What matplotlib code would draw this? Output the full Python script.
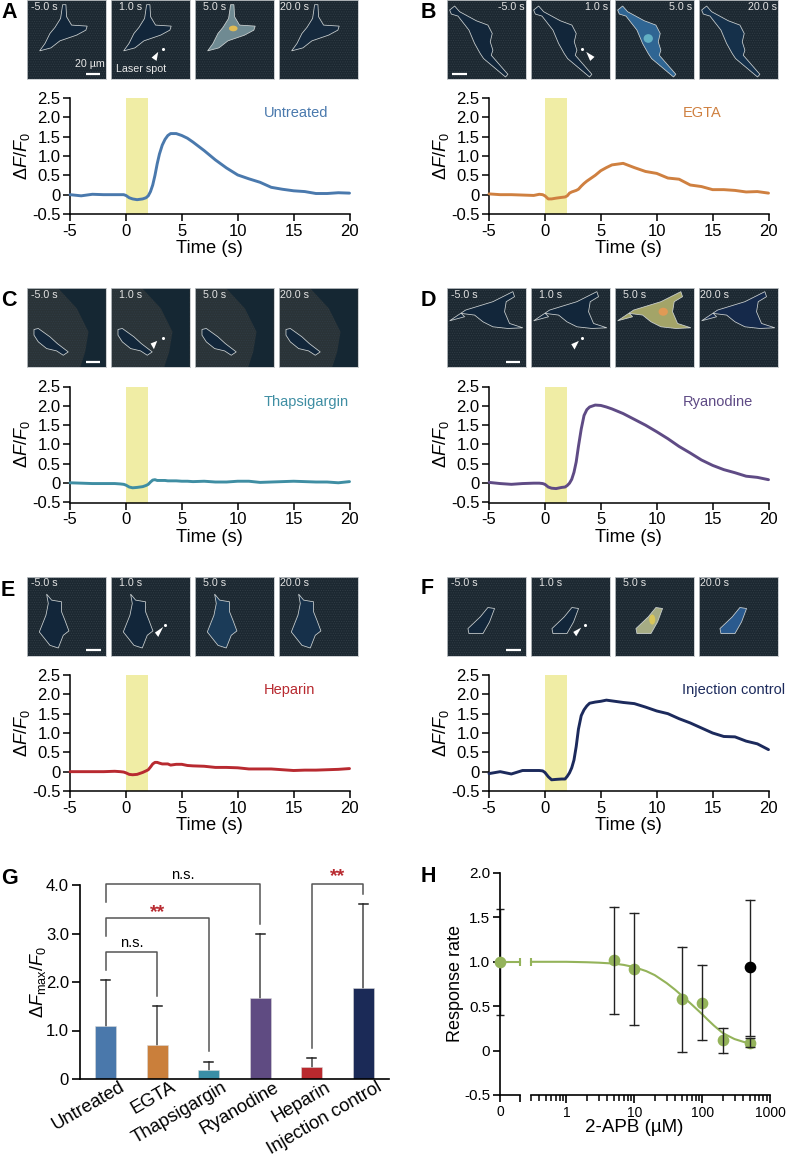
import matplotlib
matplotlib.use('Agg')
import matplotlib.pyplot as plt
import matplotlib.transforms as mtrans
from matplotlib.patches import Polygon, Ellipse, Rectangle
from matplotlib.ticker import NullFormatter, FixedLocator

plt.rcParams['font.family'] = ['Liberation Sans', 'DejaVu Sans']
plt.rcParams['mathtext.fontset'] = 'custom'
plt.rcParams['mathtext.rm'] = 'Liberation Sans'
plt.rcParams['mathtext.it'] = 'Liberation Sans:italic'
plt.rcParams['hatch.linewidth'] = 0.5

W, H = 786, 1158

# traces, all on the same time points
time = [-5, -4, -3, -2, -1, -0.5, -0.2, 0, 0.3, 0.6, 1, 1.5, 1.8, 2, 2.2, 2.4, 2.6, 2.8, 3, 3.25, 3.5, 3.75,
        4, 4.5, 5, 5.5, 6, 7, 8, 9, 10, 11, 12, 13, 14, 15, 16, 17, 18, 19, 20]
untreated = [0.0, -0.03, 0.01, 0.0, 0.0, 0.0, 0.0, -0.02, -0.08, -0.11, -0.13, -0.11, -0.08, -0.03, 0.08, 0.25,
             0.5, 0.8, 1.05, 1.28, 1.43, 1.53, 1.58, 1.58, 1.53, 1.46, 1.36, 1.14, 0.9, 0.69, 0.51, 0.41, 0.32,
             0.19, 0.14, 0.1, 0.08, 0.03, 0.03, 0.05, 0.04]
egta = [0.02, 0.0, 0.0, -0.01, -0.02, 0.01, 0.0, -0.03, -0.11, -0.11, -0.09, -0.07, -0.06, -0.03, 0.04, 0.07,
        0.09, 0.11, 0.14, 0.22, 0.29, 0.35, 0.4, 0.5, 0.62, 0.7, 0.77, 0.81, 0.7, 0.6, 0.55, 0.43, 0.4, 0.25,
        0.21, 0.13, 0.13, 0.11, 0.07, 0.08, 0.04]
thapsigargin = [0.01, 0.0, -0.01, -0.01, -0.01, -0.02, -0.03, -0.05, -0.1, -0.12, -0.11, -0.09, -0.06, -0.03,
                0.03, 0.08, 0.09, 0.07, 0.07, 0.07, 0.07, 0.06, 0.06, 0.06, 0.05, 0.05, 0.04, 0.05, 0.03, 0.03,
                0.05, 0.05, 0.02, 0.03, 0.04, 0.05, 0.04, 0.03, 0.03, 0.01, 0.04]
ryanodine = [0.02, -0.01, -0.03, -0.01, 0.0, 0.0, -0.01, -0.03, -0.1, -0.13, -0.14, -0.11, -0.1, -0.06, 0.0,
             0.1, 0.28, 0.55, 0.95, 1.4, 1.75, 1.9, 1.97, 2.02, 2.01, 1.97, 1.92, 1.8, 1.65, 1.5, 1.33, 1.15,
             0.95, 0.78, 0.6, 0.46, 0.35, 0.27, 0.18, 0.15, 0.09]
heparin = [0.0, 0.0, 0.0, 0.0, 0.01, 0.0, -0.01, -0.03, -0.07, -0.08, -0.07, -0.02, 0.02, 0.05, 0.12, 0.2, 0.24,
           0.24, 0.22, 0.2, 0.2, 0.2, 0.17, 0.19, 0.19, 0.16, 0.15, 0.14, 0.11, 0.11, 0.1, 0.07, 0.07, 0.07,
           0.05, 0.03, 0.04, 0.04, 0.05, 0.06, 0.08]
injection = [-0.05, 0.0, -0.06, 0.03, 0.03, 0.03, 0.02, -0.02, -0.13, -0.21, -0.2, -0.19, -0.19, -0.12, -0.03,
             0.1, 0.3, 0.65, 1.1, 1.45, 1.6, 1.7, 1.77, 1.8, 1.82, 1.85, 1.83, 1.79, 1.76, 1.67, 1.57, 1.5, 1.37,
             1.26, 1.13, 1.0, 0.91, 0.9, 0.79, 0.72, 0.57]

# bar chart
groups = ['Untreated', 'EGTA', 'Thapsigargin', 'Ryanodine', 'Heparin', 'Injection control']
bar_means = [1.1, 0.71, 0.19, 1.66, 0.24, 1.88]
bar_tops = [2.04, 1.5, 0.35, 2.98, 0.43, 3.61]
bar_colors = ['#4a78ab', '#ca7f3b', '#3a8ea6', '#5f4b82', '#b9292e', '#1b2a57']

# dose response
dose = [5, 10, 50, 100, 200, 500]
rate = [1.02, 0.92, 0.58, 0.54, 0.12, 0.085]
rate_low = [0.41, 0.29, -0.02, 0.12, -0.03, 0.04]
rate_high = [1.62, 1.55, 1.17, 0.96, 0.26, 0.14]
fit_dose = [0.3, 1, 2, 3, 5, 7, 10, 15, 20, 30, 40, 50, 70, 85, 100, 120, 150, 200, 250, 300, 400, 500]
fit_rate = [1.0, 1.0, 0.995, 0.99, 0.98, 0.965, 0.94, 0.895, 0.85, 0.76, 0.685, 0.62, 0.52, 0.46, 0.41, 0.35,
            0.28, 0.2, 0.16, 0.13, 0.1, 0.08]

# cell outlines, in frame pixels (3x zoom) with y going down
outline_a = [(107, 14), (117, 14), (119, 50), (134, 75), (181, 78), (177, 90), (149, 105), (99, 122), (72, 143),
             (38, 152), (54, 130), (69, 100), (84, 82), (101, 55), (104, 35)]
outline_b = [(8, 30), (23, 18), (38, 35), (88, 62), (123, 75), (136, 100), (130, 125), (138, 150), (133, 165),
             (183, 222), (176, 230), (110, 175), (100, 160), (83, 130), (66, 90), (33, 48), (13, 42)]
outline_c = [(21, 123), (34, 120), (69, 145), (91, 165), (124, 190), (109, 200), (89, 187), (59, 180), (34, 160),
             (21, 140)]
outline_d = [(8, 97), (56, 65), (138, 40), (198, 10), (203, 25), (178, 40), (173, 70), (188, 105), (228, 118),
             (183, 120), (138, 115), (108, 100), (83, 80), (43, 75), (53, 85)]
outline_e = [(59, 52), (74, 70), (104, 75), (104, 105), (114, 130), (126, 162), (109, 175), (94, 213), (69, 205),
             (37, 165), (57, 115), (64, 80)]
outline_f = [(63, 155), (100, 120), (123, 92), (143, 95), (128, 135), (108, 170), (78, 170), (66, 170)]
band_c = [(94, 0), (150, 60), (185, 130), (175, 190), (160, 236), (236, 236), (236, 0)]

# arrow head and laser dot in the 1.0 s frame
arrow_a = [(142, 155), (122, 172), (137, 182)]
arrow_b = [(166, 155), (191, 170), (178, 182)]
arrow_c = [(139, 157), (119, 165), (129, 182)]
arrow_d = [(144, 157), (121, 167), (131, 183)]
arrow_e = [(157, 150), (132, 167), (142, 180)]
arrow_f = [(151, 152), (127, 165), (136, 178)]
dot_a, dot_b, dot_c, dot_d, dot_e, dot_f = (155, 146), (154, 147), (156, 147), (154, 147), (162, 143), (161, 143)

frame_times = ['-5.0 s', '1.0 s', '5.0 s', '20.0 s']
frame_xs = [(27, 111, 195, 279), (447, 531, 615, 699)]
frame_text_x = [11, 23, 23, 4]


def px_axes(x0, y0, x1, y1, **kw):
    # rectangle in image pixels, y from the top
    return fig.add_axes([x0 / W, 1 - y1 / H, (x1 - x0) / W, (y1 - y0) / H], **kw)


def frame(x0, y0, label, tx, outline, fill, arrow=None, dot=None, bar=None, bg='#1c2831', right=False):
    ax = px_axes(x0, y0, x0 + 78.5, y0 + 79)
    ax.set_xlim(0, 236)
    ax.set_ylim(236, 0)
    ax.set_xticks([])
    ax.set_yticks([])
    ax.add_patch(Rectangle((0, 0), 236, 236, facecolor=bg, edgecolor='#303c45', hatch='.......', lw=0))
    for s in ax.spines.values():
        s.set_color('#c4c8cb')
        s.set_linewidth(0.6)
    ax.add_patch(Polygon(outline, closed=True, facecolor=fill, edgecolor='#cfd4d4', lw=0.55, zorder=3))
    if right:
        ax.text(233, 20, label, color='#e4e4e4', fontsize=7.7, ha='right', va='center', zorder=6)
    else:
        ax.text(tx, 20, label, color='#e4e4e4', fontsize=7.7, ha='left', va='center', zorder=6)
    if arrow is not None:
        ax.add_patch(Polygon(arrow, closed=True, facecolor='white', edgecolor='none', zorder=5))
        ax.plot([dot[0]], [dot[1]], 'o', ms=1.2, color='white', zorder=5)
    if bar is not None:
        ax.plot(bar, [220, 220], color='white', lw=1.6, solid_capstyle='butt', zorder=5)
    return ax


def frames_row(col, y0, outline, arrow, dot, bar, fill5, fill20, blobs, bg='#1c2831', right=False, band=None):
    axs = []
    for i, lab in enumerate(frame_times):
        fill = '#12263a'
        if i == 2:
            fill = fill5
        if i == 3:
            fill = fill20
        axs.append(frame(frame_xs[col][i], y0, lab, frame_text_x[i], outline, fill,
                         arrow if i == 1 else None, dot if i == 1 else None,
                         bar if i == 0 else None, bg, right))
    for ax in axs:
        if band is not None:
            ax.add_patch(Polygon(band, closed=True, facecolor='#152733', edgecolor='none', zorder=2))
    for (cx, cy, w, h, c) in blobs:
        axs[2].add_patch(Ellipse((cx, cy), w, h, facecolor=c, edgecolor='none', zorder=4))
    return axs


def trace(x0, y0, values, color, name):
    ax = px_axes(x0, y0, x0 + 279.5, y0 + 116)
    ax.axvspan(0, 2, color='#f0eda5', lw=0, zorder=1)
    ax.plot(time, values, color=color, lw=2.1, zorder=3, clip_on=False, solid_capstyle='round')
    ax.set_xlim(-5, 20)
    ax.set_ylim(-0.5, 2.5)
    ax.set_xticks([-5, 0, 5, 10, 15, 20])
    ax.set_xticklabels(['-5', '0', '5', '10', '15', '20'], fontsize=12)
    ax.set_yticks([-0.5, 0, 0.5, 1, 1.5, 2, 2.5])
    ax.set_yticklabels(['-0.5', '0', '0.5', '1.0', '1.5', '2.0', '2.5'], fontsize=12)
    ax.spines['top'].set_visible(False)
    ax.spines['right'].set_visible(False)
    ax.spines['left'].set_linewidth(1.1)
    ax.spines['bottom'].set_linewidth(1.1)
    ax.tick_params(length=5, width=1.1, pad=2)
    ax.set_xlabel('Time (s)', fontsize=13.2, labelpad=1)
    ax.text(12.3, 2.11, name, color=color, fontsize=10.5, va='center', ha='left')
    fig.text((x0 - 48) / W, 1 - (y0 + 58) / H, r'$\Delta F/F_0$', fontsize=13, rotation=90, ha='center', va='center')
    return ax


fig = plt.figure(figsize=(W / 100, H / 100), dpi=100)

frames_row(0, 0, outline_a, arrow_a, dot_a, (176, 219), '#6f8a92', '#15293d', [(115, 85, 26, 17, '#e0bb55')])
frames_row(1, 0, outline_b, arrow_b, dot_b, (16, 60), '#2f6593', '#15304a', [(100, 115, 28, 26, '#62b0c4')], right=True)
frames_row(0, 288.3, outline_c, arrow_c, dot_c, (176, 219), '#12263a', '#12263a', [], bg='#2a3337', band=band_c)
frames_row(1, 288.3, outline_d, arrow_d, dot_d, (176, 220), '#a3a468', '#15294a', [(145, 70, 28, 24, '#e09a55')])
frames_row(0, 576.7, outline_e, arrow_e, dot_e, (178, 222), '#1b3b58', '#16304a', [])
frames_row(1, 576.7, outline_f, arrow_f, dot_f, (176, 221), '#a6ac84', '#2a5a8e', [(112, 128, 18, 30, '#d9c65a')])

first = fig.axes[0]
first.text(144, 192, '20 µm', color='#e8e8e8', fontsize=7.7, ha='left', va='center', zorder=6)
fig.axes[1].text(14, 205, 'Laser spot', color='#e8e8e8', fontsize=7.7, ha='left', va='center', zorder=6)

trace(70, 98, untreated, '#4a79ad', 'Untreated')
trace(489, 98, egta, '#cf8040', 'EGTA')
trace(70, 386.5, thapsigargin, '#3f8ea3', 'Thapsigargin')
trace(489, 386.5, ryanodine, '#5f4b85', 'Ryanodine')
trace(70, 675, heparin, '#b82a30', 'Heparin')
trace(489, 675, injection, '#1c2a5c', 'Injection control')

# G
ax = px_axes(80, 885, 389, 1079)
xpos = list(range(len(groups)))
ax.bar(xpos, bar_means, width=0.41, color=bar_colors, edgecolor='#d8d8d8', lw=0.4, zorder=2)
for i in xpos:
    ax.plot([i, i], [bar_means[i], bar_tops[i]], color='#555555', lw=1.2, zorder=1, clip_on=False)
    ax.plot([i - 0.09, i + 0.09], [bar_tops[i], bar_tops[i]], color='#222222', lw=1.1, clip_on=False)
ax.set_xlim(-0.5, 5.5)
ax.set_ylim(0, 4)
ax.set_yticks([0, 1, 2, 3, 4])
ax.set_yticklabels(['0', '1.0', '2.0', '3.0', '4.0'], fontsize=12)
ax.set_xticks(xpos)
ax.set_xticklabels(groups, fontsize=13.3, rotation=30, ha='right', rotation_mode='anchor')
ax.spines['top'].set_visible(False)
ax.spines['right'].set_visible(False)
ax.spines['left'].set_linewidth(1.2)
ax.spines['bottom'].set_linewidth(1.2)
ax.tick_params(axis='y', length=6, width=1.2, pad=2)
ax.tick_params(axis='x', length=0, pad=2)
# tick_params resets the label transform, so the shift has to come after it
shift = mtrans.ScaledTranslation(13 / 100, 3 / 100, fig.dpi_scale_trans)
for lab in ax.get_xticklabels():
    lab.set_transform(lab.get_transform() + shift)
# significance brackets
for (a, b, top, low_a, low_b) in [(0, 1, 2.62, 2.25, 1.71), (0, 2, 3.32, 2.95, 0.57),
                                  (0, 3, 4.03, 3.65, 3.19), (4, 5, 4.03, 0.64, 3.82)]:
    ax.plot([a, a, b, b], [low_a, top, top, low_b], color='#555555', lw=1.1, clip_on=False)
ax.text(0.5, 2.8, 'n.s.', fontsize=10.5, ha='center', va='center')
ax.text(1.0, 3.44, '**', fontsize=14, fontweight='bold', color='#b82a30', ha='center', va='center')
ax.text(1.5, 4.2, 'n.s.', fontsize=10.5, ha='center', va='center')
ax.text(4.5, 4.17, '**', fontsize=14, fontweight='bold', color='#b82a30', ha='center', va='center')
fig.text(38 / W, 1 - 982 / H, r'$\Delta F_{\mathrm{max}}/F_0$', fontsize=13, rotation=90, ha='center', va='center')

# H, x axis broken between 0 and 0.3
green = '#94b35a'
axl = px_axes(500, 873, 520, 1095)
axr = px_axes(531, 873, 770, 1095)
axl.set_xlim(0, 1)
axl.set_ylim(-0.5, 2)
axr.set_xscale('log')
axr.set_xlim(0.3, 1000)
axr.set_ylim(-0.5, 2)
axl.plot([0, 1], [1, 1], color=green, lw=1.5, clip_on=False, zorder=3)
axl.plot([1], [1], marker='|', ms=6, mew=1.5, color=green, clip_on=False, zorder=3)
axl.errorbar([0], [1], yerr=[[0.6], [0.6]], color='#222222', lw=0, elinewidth=1, capsize=3, clip_on=False, zorder=2)
axl.plot([0], [1], 'o', ms=7.4, color=green, clip_on=False, zorder=4)
axr.plot(fit_dose, fit_rate, color=green, lw=1.5, clip_on=False, zorder=3)
axr.plot([0.3], [1], marker='|', ms=6, mew=1.5, color=green, clip_on=False, zorder=3)
axr.plot(dose, rate, 'o', ms=7.4, color=green, clip_on=False, zorder=4, ls='none')
for d, lo, hi in zip(dose, rate_low, rate_high):
    axr.plot([d, d], [lo, hi], color='#222222', lw=1, zorder=5, clip_on=False)
    axr.plot([d], [lo], marker='_', ms=7, mew=1, color='#222222', zorder=5, clip_on=False)
    axr.plot([d], [hi], marker='_', ms=7, mew=1, color='#222222', zorder=5, clip_on=False)
axr.plot([500, 500], [0.17, 1.7], color='#222222', lw=1, zorder=5, clip_on=False)
axr.plot([500, 500], [0.17, 1.7], marker='_', ms=7, mew=1, ls='none', color='#222222', zorder=5, clip_on=False)
axr.plot([500], [0.94], 'o', ms=7.4, color='black', zorder=6, clip_on=False)

for a in (axl, axr):
    a.spines['top'].set_visible(False)
    a.spines['right'].set_visible(False)
    a.spines['bottom'].set_linewidth(1.2)
axl.spines['left'].set_linewidth(1.2)
axr.spines['left'].set_visible(False)
axl.set_yticks([-0.5, 0, 0.5, 1, 1.5, 2])
axl.set_yticklabels(['-0.5', '0', '0.5', '1.0', '1.5', '2.0'], fontsize=11)
axl.set_xticks([0, 1])
axl.set_xticklabels(['0', ''], fontsize=10)
axl.tick_params(length=5, width=1.2, pad=2)
axr.set_yticks([])
axr.xaxis.set_major_locator(FixedLocator([1, 10, 100, 1000]))
axr.xaxis.set_minor_locator(FixedLocator([0.3, 0.4, 0.5, 0.6, 0.7, 0.8, 0.9, 2, 3, 4, 5, 6, 7, 8, 9,
                                          20, 30, 40, 50, 60, 70, 80, 90, 200, 300, 400, 500, 600, 700, 800, 900]))
axr.xaxis.set_minor_formatter(NullFormatter())
axr.set_xticklabels(['1', '10', '100', '1000'], fontsize=10)
axr.tick_params(axis='x', which='major', length=6, width=1.2, pad=2)
axr.tick_params(axis='x', which='minor', length=4, width=1.1)
fig.text(634 / W, 1 - 1128 / H, '2-APB (µM)', fontsize=13.5, ha='center', va='center')
fig.text(456 / W, 1 - 983 / H, 'Response rate', fontsize=13, rotation=90, ha='center', va='center')

# panel letters
letters = ['A', 'B', 'C', 'D', 'E', 'F', 'G', 'H']
letter_x = [1, 421, 1, 421, 1, 421, 1, 421]
letter_y = [13, 12, 301, 301, 590, 589, 878, 877]
for s, x, y in zip(letters, letter_x, letter_y):
    fig.text(x / W, 1 - y / H, s, fontsize=15.5, fontweight='bold', ha='left', va='center')

fig.savefig('out.png', dpi=100)
